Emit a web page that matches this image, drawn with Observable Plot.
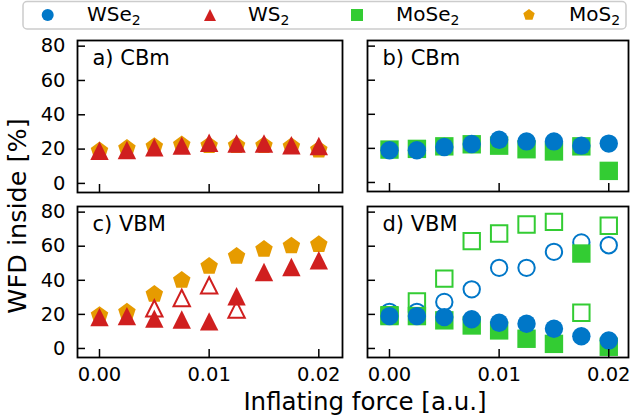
<!DOCTYPE html>
<html><head><meta charset="utf-8">
<script src="https://cdn.jsdelivr.net/npm/d3@7"></script>
<script src="https://cdn.jsdelivr.net/npm/@observablehq/plot@0.6"></script>
<style>
html,body{margin:0;padding:0;background:#fff;}
#wrap{position:relative;width:632px;height:416px;font-family:"DejaVu Sans",sans-serif;}
#wrap svg{position:absolute;left:0;top:0;}
</style></head><body><div id="wrap"></div>
<script>
// ---- data ----
const forces = [0, 0.0025, 0.005, 0.0075, 0.01, 0.0125, 0.015, 0.0175, 0.02];
const xTicks = [0, 0.01, 0.02];
const yTicks = [0, 20, 40, 60, 80];
const materials = ["WSe", "WS", "MoSe", "MoS"]; // each with subscript 2
// a) CBm
const cbmWS2  = [19.0, 19.5, 21.0, 22.0, 23.7, 23.3, 23.3, 22.2, 21.8];
const cbmMoS2 = [19.0, 20.5, 21.5, 22.5, 22.0, 22.0, 22.0, 21.5, 19.5];
// b) CBm
const cbmWSe2  = [18.9, 18.9, 20.8, 22.6, 25.1, 24.1, 24.1, 21.6, 22.8];
const cbmMoSe2 = [19.3, 19.7, 21.2, 22.4, 21.6, 19.5, 18.2, 21.2, 6.8];
// c) VBM
const vbmMoS2 = [19.4, 21.4, 31.8, 40.0, 48.2, 54.1, 58.2, 60.2, 61.0];
const vbmWS2  = [18.4, 19.0, 17.5, 17.0, 15.9, 30.6, 44.9, 47.8, 51.8];
const vbmWS2OpenForces = [0.005, 0.0075, 0.01, 0.0125];
const vbmWS2Open = [23.5, 29.6, 37.0, 22.8];
// d) VBM
const vbmWSe2      = [19.0, 19.0, 18.4, 17.1, 15.1, 14.5, 11.6, 7.2, 4.7];
const vbmWSe2Open  = [21.5, 21.5, 27.3, 34.7, 47.3, 47.3, 56.7, 62.2, 60.6];
const vbmMoSe2     = [19.0, 19.0, 16.5, 13.5, 10.6, 5.7, 2.7, 55.7, 1.0];
const vbmMoSe2Open = [19.5, 27.6, 41.0, 63.0, 67.5, 72.7, 74.3, 21.0, 72.0];

const colors = {WSe2: "#0077c8", WS2: "#d01f1f", MoSe2: "#33cc33", MoS2: "#e69b00"};

// ---- symbols (matplotlib-like) ----
const rad = s => Math.sqrt(s / Math.PI);
const sym = {
  circle: {draw(c, s) { const r = rad(s); c.moveTo(r, 0); c.arc(0, 0, r, 0, 2 * Math.PI); }},
  square: {draw(c, s) { const r = rad(s); c.rect(-r, -r, 2 * r, 2 * r); }},
  triangle: {draw(c, s) { const r = rad(s); c.moveTo(0, -r); c.lineTo(r, r); c.lineTo(-r, r); c.closePath(); }},
  pentagon: {draw(c, s) { const r = rad(s);
    for (let k = 0; k < 5; k++) { const a = -Math.PI / 2 + k * 2 * Math.PI / 5;
      const x = r * Math.cos(a), y = r * Math.sin(a); k ? c.lineTo(x, y) : c.moveTo(x, y); }
    c.closePath(); }}
};

const pts = (xs, ys) => xs.map((f, i) => ({f, v: ys[i]}));
const filled = (xs, ys, symbol, color) =>
  Plot.dot(pts(xs, ys), {x: "f", y: "v", symbol, r: 9.2, fill: color, stroke: "none"});
const open = (xs, ys, symbol, color) =>
  Plot.dot(pts(xs, ys), {x: "f", y: "v", symbol, r: 8.2, fill: "none", stroke: color, strokeWidth: 2});

const yDomain = [-5.3, 83.3];
function panel({left, right, top, bottom, xDomain, label, showX, showY, marks}) {
  return Plot.plot({
    width: 632, height: 416,
    marginLeft: left, marginRight: 632 - right, marginTop: top, marginBottom: 416 - bottom,
    x: {domain: xDomain},
    y: {domain: yDomain},
    style: {background: "transparent", fontFamily: "DejaVu Sans", fontSize: "19px", color: "black", overflow: "visible"},
    marks: [
      ...marks,
      Plot.frame({stroke: "black", strokeWidth: 1.8}),
      Plot.axisX(xTicks, {tickSize: -8, tickPadding: 18, strokeWidth: 1.5,
        tickFormat: showX ? d3.format(".2f") : () => "", label: null, fontSize: 19.5}),
      Plot.axisY(yTicks, {tickSize: -8, tickPadding: 20, strokeWidth: 1.5,
        tickFormat: showY ? d => String(d) : () => "", label: null, fontSize: 19.5}),
      Plot.text([label], {frameAnchor: "top-left", dx: 15, dy: 9.5, fontSize: 21,
        textAnchor: "start", lineAnchor: "top", fill: "black"})
    ]
  });
}

const xA = [-0.002006, 0.02216];
const xB = [-0.002006, 0.0218];
const wrap = document.getElementById("wrap");

wrap.append(panel({left: 77, right: 342, top: 40, bottom: 192, xDomain: xA, label: "a) CBm", showX: false, showY: true,
  marks: [filled(forces, cbmMoS2, sym.pentagon, colors.MoS2), filled(forces, cbmWS2, sym.triangle, colors.WS2)]}));
wrap.append(panel({left: 367, right: 628, top: 40, bottom: 191, xDomain: xB, label: "b) CBm", showX: false, showY: false,
  marks: [filled(forces, cbmMoSe2, sym.square, colors.MoSe2), filled(forces, cbmWSe2, sym.circle, colors.WSe2)]}));
wrap.append(panel({left: 77, right: 342, top: 206, bottom: 357, xDomain: xA, label: "c) VBM", showX: true, showY: true,
  marks: [filled(forces, vbmMoS2, sym.pentagon, colors.MoS2),
          open(vbmWS2OpenForces, vbmWS2Open, sym.triangle, colors.WS2),
          filled(forces, vbmWS2, sym.triangle, colors.WS2)]}));
wrap.append(panel({left: 367, right: 628, top: 206, bottom: 357, xDomain: xB, label: "d) VBM", showX: true, showY: false,
  marks: [open(forces, vbmWSe2Open, sym.circle, colors.WSe2),
          open(forces, vbmMoSe2Open, sym.square, colors.MoSe2),
          filled(forces, vbmMoSe2, sym.square, colors.MoSe2),
          filled(forces, vbmWSe2, sym.circle, colors.WSe2)]}));

// ---- overlay: legend and shared axis labels ----
const ov = d3.create("svg").attr("width", 632).attr("height", 416)
  .style("font-family", "DejaVu Sans").style("overflow", "visible");
ov.append("rect").attr("x", 23).attr("y", 1.5).attr("width", 603).attr("height", 27.5).attr("rx", 4)
  .attr("fill", "white").attr("fill-opacity", 0.8).attr("stroke", "#cccccc").attr("stroke-width", 1.5);
const legendItems = [
  {name: materials[0], color: colors.WSe2, symbol: sym.circle, mx: 47.7, tx: 87},
  {name: materials[1], color: colors.WS2, symbol: sym.triangle, mx: 210, tx: 248},
  {name: materials[2], color: colors.MoSe2, symbol: sym.square, mx: 357, tx: 396},
  {name: materials[3], color: colors.MoS2, symbol: sym.pentagon, mx: 529, tx: 569}
];
for (const it of legendItems) {
  ov.append("path").attr("transform", `translate(${it.mx},15)`)
    .attr("d", d3.symbol(it.symbol, Math.PI * 6 * 6)()).attr("fill", it.color);
  const t = ov.append("text").attr("x", it.tx).attr("y", 21).attr("font-size", 20).attr("fill", "black");
  t.append("tspan").text(it.name);
  t.append("tspan").attr("font-size", 14).attr("dy", 4).text("2");
}
ov.append("text").attr("x", 365).attr("y", 409.5).attr("text-anchor", "middle")
  .attr("font-size", 24.5).attr("fill", "black").text("Inflating force [a.u.]");
ov.append("text").attr("transform", "translate(26,216) rotate(-90)").attr("text-anchor", "middle")
  .attr("font-size", 25.5).attr("fill", "black").text("WFD inside [%]");
wrap.append(ov.node());
</script></body></html>
